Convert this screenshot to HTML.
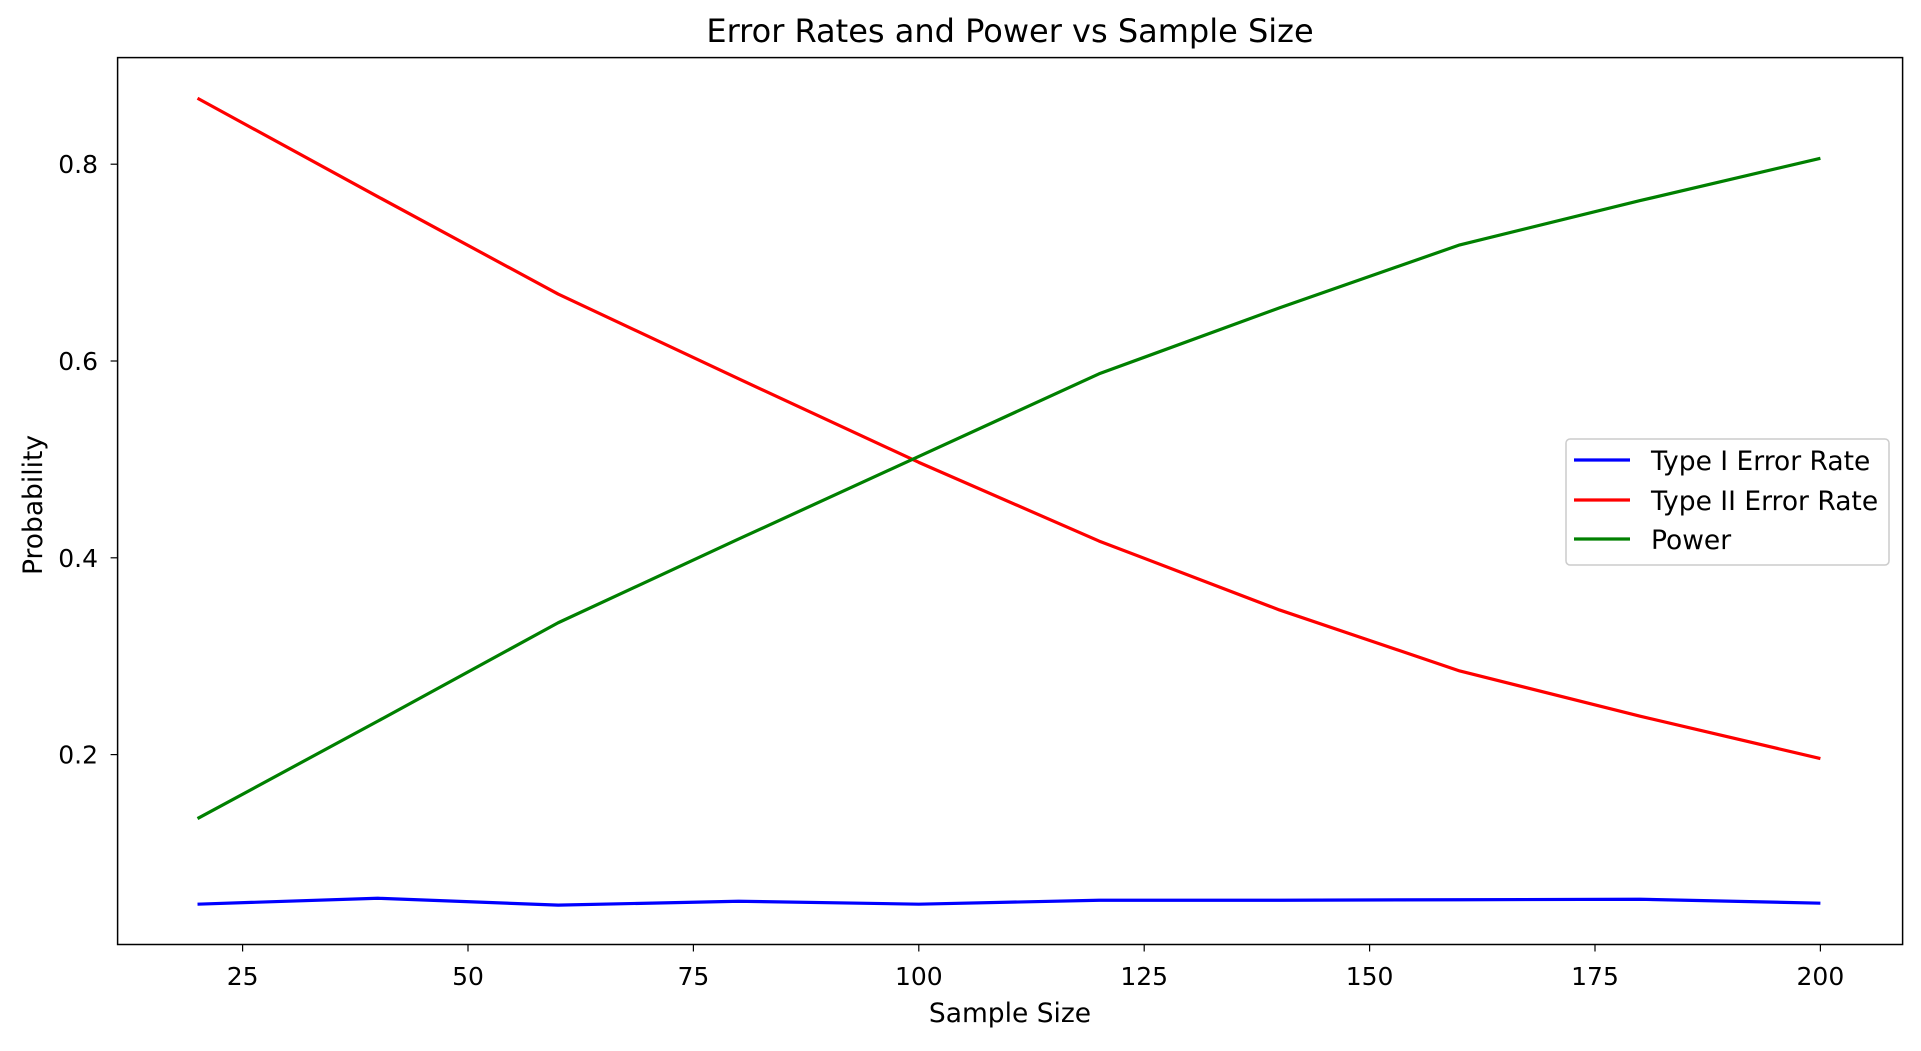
<!DOCTYPE html>
<html><head><meta charset="utf-8"><style>
html,body{margin:0;padding:0;background:#fff;}
svg text{font-family:"DejaVu Sans","Liberation Sans",sans-serif;fill:#000;}
</style></head><body>
<svg id="chart" width="1921" height="1046" xmlns="http://www.w3.org/2000/svg">
<rect x="0" y="0" width="1921" height="1046" fill="#fff"/>
<text x="1010" y="42" font-size="32" text-anchor="middle">Error Rates and Power vs Sample Size</text>
<g id="plot"></g>
<rect x="117.6" y="57.6" width="1785" height="886.9" fill="none" stroke="#000" stroke-width="1.5"/>
<text x="1010" y="1022" font-size="26.5" text-anchor="middle">Sample Size</text>
<text transform="translate(42,505) rotate(-90)" font-size="26.5" text-anchor="middle">Probability</text>
<g>
<rect x="1566" y="439" width="323" height="126" rx="4" fill="#fff" fill-opacity="0.8" stroke="#ccc" stroke-width="1.5"/>
<line x1="1574" y1="460" x2="1630" y2="460" stroke="#0000ff" stroke-width="3.2"/>
<text x="1651" y="470" font-size="26.5">Type I Error Rate</text>
<line x1="1574" y1="500" x2="1630" y2="500" stroke="#ff0000" stroke-width="3.2"/>
<text x="1651" y="510" font-size="26.5">Type II Error Rate</text>
<line x1="1574" y1="539" x2="1630" y2="539" stroke="#008000" stroke-width="3.2"/>
<text x="1651" y="549" font-size="26.5">Power</text>
</g>
</svg>
<script>
const sampleSizes = [20, 40, 60, 80, 100, 120, 140, 160, 180, 200];
const typeIError = [0.048, 0.054, 0.047, 0.051, 0.048, 0.052, 0.052, 0.0525, 0.053, 0.049];
const typeIIError = [0.867, 0.767, 0.668, 0.582, 0.497, 0.417, 0.347, 0.285, 0.239, 0.196];
const powerValues = [0.135, 0.234, 0.334, 0.419, 0.503, 0.587, 0.654, 0.718, 0.763, 0.806];
const xTicks = [25, 50, 75, 100, 125, 150, 175, 200];
const yTicks = [0.2, 0.4, 0.6, 0.8];

const NS = "http://www.w3.org/2000/svg";
const plot = document.getElementById("plot");
function xs(v){ return 242.6 + (v - 25) * 9.016; }
function ys(v){ return 951.4 - v * 984; }

xTicks.forEach(t => {
  const l = document.createElementNS(NS, "line");
  
  
  l.setAttribute("x1", xs(t)); l.setAttribute("x2", xs(t));
  l.setAttribute("y1", 944.5); l.setAttribute("y2", 951.5);
  l.setAttribute("stroke", "#000"); l.setAttribute("stroke-width", "1.2");
  plot.appendChild(l);
  const tx = document.createElementNS(NS, "text");
  
  
  tx.setAttribute("x", xs(t)); tx.setAttribute("y", 985);
  tx.setAttribute("font-size", "25"); tx.setAttribute("text-anchor", "middle");
  tx.textContent = t;
  plot.appendChild(tx);
});
yTicks.forEach(t => {
  const l = document.createElementNS(NS, "line");
  
  
  l.setAttribute("x1", 110.6); l.setAttribute("x2", 117.6);
  l.setAttribute("y1", ys(t)); l.setAttribute("y2", ys(t));
  l.setAttribute("stroke", "#000"); l.setAttribute("stroke-width", "1.2");
  plot.appendChild(l);
  const tx = document.createElementNS(NS, "text");
  
  
  tx.setAttribute("x", 98); tx.setAttribute("y", ys(t) + 9);
  tx.setAttribute("font-size", "25"); tx.setAttribute("text-anchor", "end");
  tx.textContent = t.toFixed(1);
  plot.appendChild(tx);
});
function drawLine(vals, color, name){
  const p = document.createElementNS(NS, "polyline");
  
  
  p.setAttribute("points", vals.map((v,i) => xs(sampleSizes[i]) + "," + ys(v)).join(" "));
  p.setAttribute("fill", "none"); p.setAttribute("stroke", color);
  p.setAttribute("stroke-width", "3.2"); p.setAttribute("stroke-linejoin", "round");
  plot.appendChild(p);
}
drawLine(typeIError, "#0000ff", "type1-error-line");
drawLine(typeIIError, "#ff0000", "type2-error-line");
drawLine(powerValues, "#008000", "power-line");
</script>
</body></html>
